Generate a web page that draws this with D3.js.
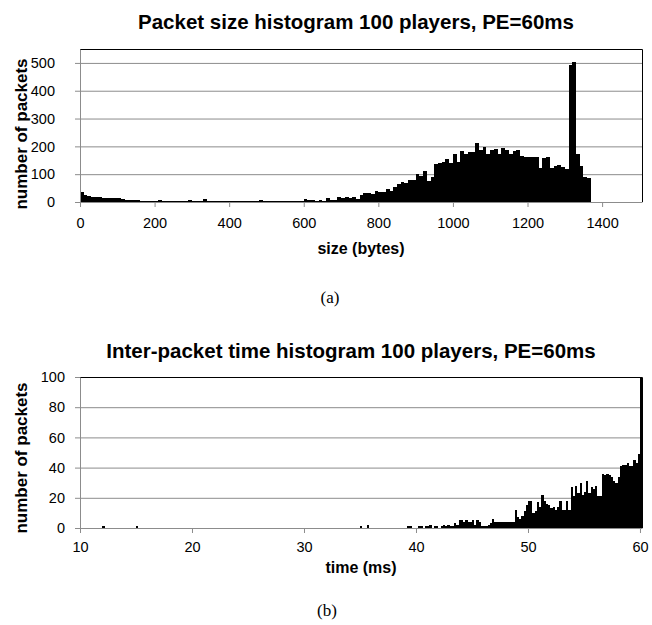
<!DOCTYPE html>
<html>
<head>
<meta charset="utf-8">
<script src="https://cdn.jsdelivr.net/npm/d3@7"></script>
<style>
  body { margin: 0; background: #fff; }
  svg text { font-family: 'Liberation Sans', Arial, sans-serif; fill: #000; }
</style>
</head>
<body>
<svg id="chart" width="652" height="625"></svg>
<script>
// (a) packet size histogram, 10 byte bins starting at 0
const sizeBinWidth = 10
const sizeCounts = [
  37, 25, 20, 18, 19, 19, 16, 14, 13, 13,
  13, 11, 8, 6, 6, 7, 5, 5, 5, 4,
  5, 8, 4, 4, 4, 4, 3, 4, 4, 7,
  4, 3, 4, 10, 4, 3, 4, 3, 4, 3,
  4, 3, 4, 4, 3, 4, 3, 4, 6, 4,
  3, 4, 3, 4, 4, 3, 4, 4, 4, 5,
  11, 8, 7, 4, 7, 5, 13, 8, 6, 17,
  14, 17, 14, 17, 11, 24, 34, 31, 29, 40,
  36, 36, 46, 41, 53, 65, 71, 67, 78, 79,
  102, 95, 110, 76, 91, 136, 140, 142, 155, 139,
  172, 144, 184, 174, 179, 181, 212, 186, 196, 174,
  186, 190, 172, 193, 187, 174, 185, 186, 166, 162,
  161, 160, 160, 124, 157, 160, 121, 130, 133, 125,
  118, 493, 505, 173, 130, 89, 88
]
const sizeTicks = [0, 200, 400, 600, 800, 1000, 1200, 1400]
const sizeCountTicks = [0, 100, 200, 300, 400, 500]

// (b) inter-packet time histogram, 0.2 ms bins from 39 ms, plus a few stray early bins
const timeBinWidth = 0.2
const timeFirstBin = 39
const timeCounts = [
  0, 1, 1, 0, 0,
  0, 1, 1, 0, 1,
  1, 2, 0, 1, 1,
  0, 1, 2, 1, 2,
  1, 1, 3, 2, 5,
  5, 4, 5, 4, 4,
  5, 2, 5, 4, 1,
  1, 1, 2, 3, 6,
  4, 4, 4, 4, 4,
  4, 4, 4, 4, 12,
  7, 6, 8, 11, 15,
  18, 18, 10, 11, 17,
  14, 22, 18, 16, 15,
  13, 14, 12, 14, 18,
  12, 12, 18, 12, 27,
  21, 28, 23, 30, 22,
  24, 31, 23, 27, 26,
  28, 21, 21, 36, 35,
  36, 35, 34, 31, 30,
  34, 41, 42, 42, 43,
  41, 41, 45, 43, 49,
  100
]
const timeStrayBins = [12, 15, 35, 35.6]
const timeStrayCounts = [1, 1, 1, 2]
const timeTicks = [10, 20, 30, 40, 50, 60]
const timeCountTicks = [0, 20, 40, 60, 80, 100]

const svg = d3.select('#chart')

function drawHistogram(opts) {
  const {left, right, top, bottom} = opts
  const g = svg.append('g').attr('class', 'histogram ' + opts.id)

  const x = d3.scaleLinear().domain(opts.xDomain).range([left, right])
  const y = d3.scaleLinear().domain(opts.yDomain).range([bottom, top])

  g.append('clipPath')
    .attr('id', 'clip-' + opts.id)
    .append('rect')
    .attr('x', left).attr('y', top)
    .attr('width', right - left).attr('height', bottom - top)

  // gridlines
  g.append('g')
    .attr('transform', `translate(${left},0)`)
    .call(d3.axisLeft(y).tickValues(opts.yTicks).tickSize(-(right - left)).tickFormat(''))
    .call(a => a.select('.domain').remove())
    .call(a => a.selectAll('line').attr('stroke', '#8c8c8c'))

  // bars
  g.append('g')
    .attr('clip-path', `url(#clip-${opts.id})`)
    .selectAll('rect')
    .data(opts.bins)
    .enter()
    .append('rect')
    .attr('x', d => x(d.start))
    .attr('width', d => x(d.start + opts.binWidth) - x(d.start))
    .attr('y', d => y(d.count))
    .attr('height', d => y(0) - y(d.count))
    .attr('fill', '#000')
    .attr('shape-rendering', 'crispEdges')

  // black frame on top and right
  g.append('path')
    .attr('d', `M${left},${top + 0.5}H${right + 0.5}V${bottom}`)
    .attr('fill', 'none')
    .attr('stroke', '#000')

  const yAxis = g.append('g')
    .attr('transform', `translate(${left},0)`)
    .call(d3.axisLeft(y).tickValues(opts.yTicks).tickSize(5).tickSizeOuter(0).tickPadding(opts.yPad))
  const xAxis = g.append('g')
    .attr('transform', `translate(0,${bottom})`)
    .call(d3.axisBottom(x).tickValues(opts.xTicks).tickSize(5).tickSizeOuter(0)
      .tickPadding(opts.xPad).tickFormat(d3.format('d')))
  ;[yAxis, xAxis].forEach(a => {
    a.selectAll('.domain, line').attr('stroke', '#8c8c8c')
    a.selectAll('text').attr('font-size', 14.5)
  })

  g.append('text')
    .attr('x', opts.titleX)
    .attr('y', opts.titleY)
    .attr('text-anchor', 'middle')
    .attr('font-weight', 'bold')
    .attr('font-size', 20.5)
    .text(opts.title)

  g.append('text')
    .attr('x', (left + right) / 2)
    .attr('y', opts.xLabelY)
    .attr('text-anchor', 'middle')
    .attr('font-weight', 'bold')
    .attr('font-size', 16)
    .text(opts.xLabel)

  g.append('text')
    .attr('transform', `translate(${opts.yLabelX},${opts.yLabelY}) rotate(-90)`)
    .attr('text-anchor', 'middle')
    .attr('font-weight', 'bold')
    .attr('font-size', 17)
    .text('number of packets')

  g.append('text')
    .attr('x', opts.captionX)
    .attr('y', opts.captionY)
    .attr('text-anchor', 'middle')
    .attr('font-size', 17)
    .style('font-family', "'Liberation Serif', 'Times New Roman', serif")
    .text(opts.caption)
}

const sizeBins = sizeCounts.map((count, i) => ({start: i * sizeBinWidth, count}))
const timeBins = timeCounts.map((count, i) => ({start: timeFirstBin + i * timeBinWidth, count}))
  .concat(timeStrayBins.map((start, i) => ({start, count: timeStrayCounts[i]})))

drawHistogram({
  id: 'size',
  left: 80, right: 642, top: 49, bottom: 202,
  xDomain: [0, 1507], yDomain: [0, 550],
  xTicks: sizeTicks, yTicks: sizeCountTicks,
  bins: sizeBins, binWidth: sizeBinWidth,
  xPad: 11, yPad: 20,
  title: 'Packet size histogram 100 players, PE=60ms', titleX: 356, titleY: 29,
  xLabel: 'size (bytes)', xLabelY: 254,
  yLabelX: 27, yLabelY: 134,
  caption: '(a)', captionX: 330, captionY: 303
})

drawHistogram({
  id: 'time',
  left: 80, right: 642, top: 377, bottom: 528,
  xDomain: [10, 60.18], yDomain: [0, 100],
  xTicks: timeTicks, yTicks: timeCountTicks,
  bins: timeBins, binWidth: timeBinWidth,
  xPad: 9, yPad: 10,
  title: 'Inter-packet time histogram 100 players, PE=60ms', titleX: 351, titleY: 358,
  xLabel: 'time (ms)', xLabelY: 573,
  yLabelX: 27, yLabelY: 458,
  caption: '(b)', captionX: 327, captionY: 616
})
</script>
</body>
</html>
